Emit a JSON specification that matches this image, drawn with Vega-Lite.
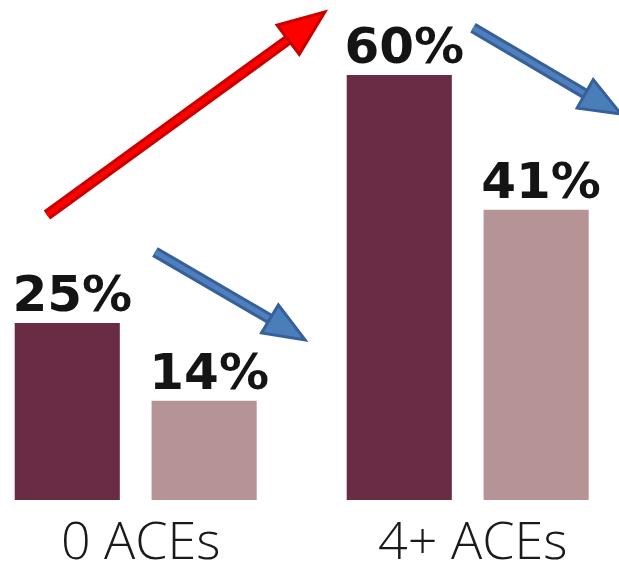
{
  "$schema": "https://vega.github.io/schema/vega-lite/v6.json",
  "width": 619,
  "height": 500,
  "padding": {"left": 0, "top": 0, "right": 0, "bottom": 70},
  "autosize": {"type": "none"},
  "background": "white",
  "config": {"view": {"stroke": null}},
  "datasets": {
    "bars": [
      {"group": "0 ACEs", "series": "Series 1", "share": 0.25},
      {"group": "0 ACEs", "series": "Series 2", "share": 0.14},
      {"group": "4+ ACEs", "series": "Series 1", "share": 0.60},
      {"group": "4+ ACEs", "series": "Series 2", "share": 0.41}
    ],
    "arrows": [
      {"arrow": "rise", "kind": "red", "x_tail": 7.59, "y_tail": 0.4025, "x_end": 46.53, "y_end": 0.6497, "x_head": 49.52, "y_head": 0.6695, "heading": 52.9},
      {"arrow": "drop 0 ACEs", "kind": "blue", "x_tail": 25.04, "y_tail": 0.3503, "x_end": 43.62, "y_end": 0.2556, "x_head": 46.45, "y_head": 0.2408, "heading": 121},
      {"arrow": "drop 4+ ACEs", "kind": "blue", "x_tail": 76.41, "y_tail": 0.6667, "x_end": 94.83, "y_end": 0.572, "x_head": 97.42, "y_head": 0.5593, "heading": 119.4}
    ]
  },
  "layer": [
    {
      "data": {"name": "bars"},
      "encoding": {
        "x": {
          "field": "group", "type": "nominal", "sort": null,
          "scale": {"range": [0, 603.4], "paddingInner": 0.2711, "paddingOuter": 0.0443},
          "axis": {"title": null, "labelAngle": 0, "ticks": false, "tickSize": 0, "domain": false, "grid": false,
                   "labelFont": "Open Sans", "labelFontWeight": 300, "labelFontSize": 52, "labelColor": "#1a1a1a",
                   "labelPadding": 58, "labelBaseline": "alphabetic", "labelOffset": 5, "labelLimit": 0, "labelOverlap": false}
        },
        "xOffset": {"field": "series", "type": "nominal", "sort": null, "scale": {"paddingInner": 0.232, "paddingOuter": 0}},
        "y": {"field": "share", "type": "quantitative", "scale": {"domain": [0, 0.706], "nice": false, "zero": true}, "axis": null}
      },
      "layer": [
        {
          "mark": {"type": "bar"},
          "encoding": {
            "color": {"field": "series", "type": "nominal", "scale": {"domain": ["Series 1", "Series 2"], "range": ["#6A2C45", "#B69495"]}, "legend": null}
          }
        },
        {
          "mark": {"type": "text", "font": "DejaVu Sans", "fontWeight": "bold", "fontSize": 50, "baseline": "alphabetic", "align": "center", "dy": -12, "dx": 5, "color": "#141414"},
          "encoding": {
            "text": {"field": "share", "type": "quantitative", "format": ".0%"}
          }
        }
      ]
    },
    {
      "data": {"name": "arrows"},
      "layer": [
        {
          "mark": {"type": "rule", "strokeCap": "butt"},
          "encoding": {
            "x": {"field": "x_tail", "type": "quantitative", "scale": {"domain": [0, 100], "nice": false, "zero": false}, "axis": null},
            "y": {"field": "y_tail", "type": "quantitative", "scale": {"domain": [0, 0.706], "nice": false, "zero": true}, "axis": null},
            "x2": {"field": "x_end"},
            "y2": {"field": "y_end"},
            "color": {"condition": {"test": "datum.kind === 'red'", "value": "#C80000"}, "value": "#36609A"},
            "strokeWidth": {"condition": {"test": "datum.kind === 'red'", "value": 11}, "value": 11}
          }
        },
        {
          "mark": {"type": "rule", "strokeCap": "butt"},
          "encoding": {
            "x": {"field": "x_tail", "type": "quantitative", "scale": {"domain": [0, 100], "nice": false, "zero": false}, "axis": null},
            "y": {"field": "y_tail", "type": "quantitative", "scale": {"domain": [0, 0.706], "nice": false, "zero": true}, "axis": null},
            "x2": {"field": "x_end"},
            "y2": {"field": "y_end"},
            "color": {"condition": {"test": "datum.kind === 'red'", "value": "#FF0000"}, "value": "#4F7FBC"},
            "strokeWidth": {"condition": {"test": "datum.kind === 'red'", "value": 5}, "value": 5}
          }
        },
        {
          "mark": {"type": "point", "filled": true, "opacity": 1, "shape": "M0,-1L-0.8,1L0.8,1Z", "strokeWidth": 3},
          "encoding": {
            "x": {"field": "x_head", "type": "quantitative", "scale": {"domain": [0, 100], "nice": false, "zero": false}, "axis": null},
            "y": {"field": "y_head", "type": "quantitative", "scale": {"domain": [0, 0.706], "nice": false, "zero": true}, "axis": null},
            "angle": {"field": "heading", "type": "quantitative", "scale": null},
            "size": {"condition": {"test": "datum.kind === 'red'", "value": 2116}, "value": 1681},
            "fill": {"condition": {"test": "datum.kind === 'red'", "value": "#FF0000"}, "value": "#4A7EBB"},
            "stroke": {"condition": {"test": "datum.kind === 'red'", "value": "#C80000"}, "value": "#36609A"}
          }
        }
      ]
    }
  ],
  "resolve": {"scale": {"x": "independent"}}
}
